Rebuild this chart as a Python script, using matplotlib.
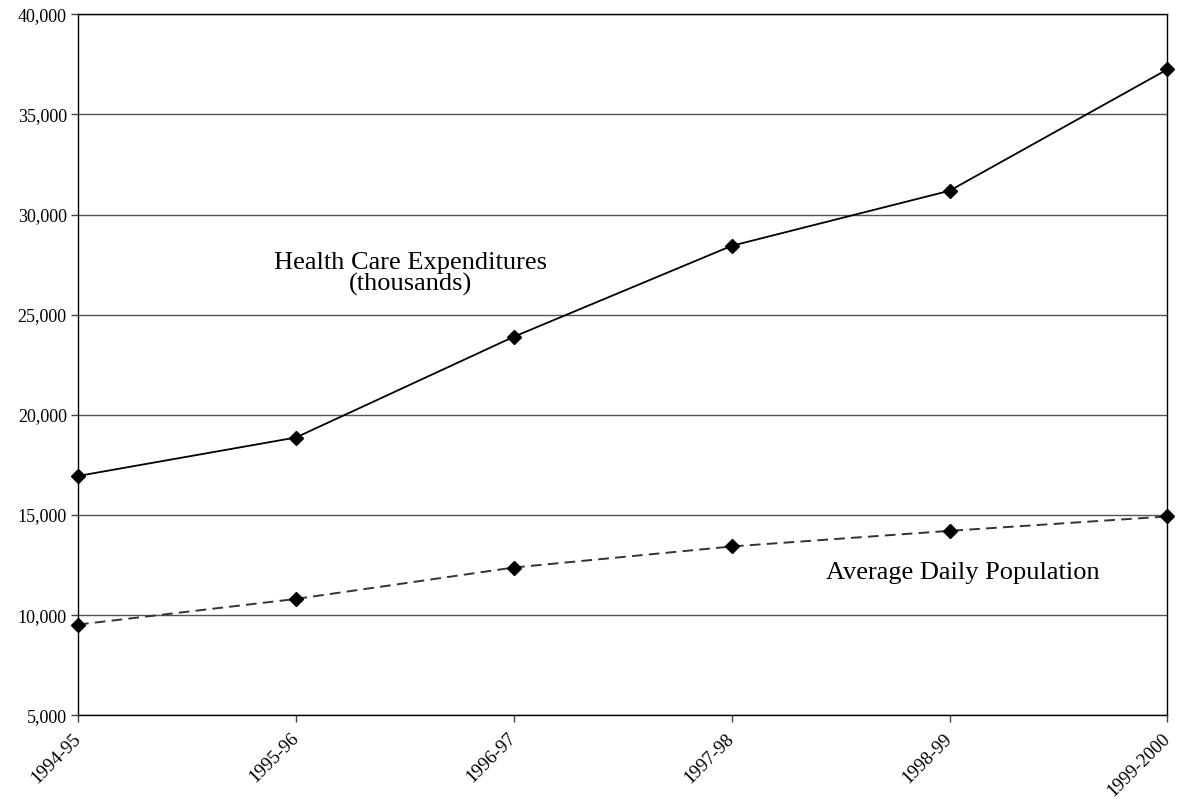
import matplotlib
matplotlib.use("Agg")
import matplotlib.pyplot as plt
from matplotlib.ticker import FuncFormatter

# Dados
anos = ["1994-95", "1995-96", "1996-97", "1997-98", "1998-99", "1999-2000"]
gastos_saude = [16950, 18870, 23900, 28440, 31190, 37250]
populacao_diaria = [9530, 10810, 12380, 13430, 14210, 14930]

plt.rcParams['font.family'] = ['Liberation Serif', 'DejaVu Serif']

fig = plt.figure(figsize=(11.78, 8.08), dpi=100)
ax = fig.add_axes([0.0662, 0.1147, 0.9248, 0.8676])

x = list(range(len(anos)))

# Linhas de grade horizontais
ax.set_ylim(5000, 40000)
ax.set_yticks(range(5000, 40001, 5000))
ax.yaxis.grid(True, color='#555555', linewidth=1.0)
ax.set_axisbelow(True)

ax.plot(x, gastos_saude, color='black', linewidth=1.3, marker='D',
        markersize=7, markerfacecolor='black', markeredgecolor='black', clip_on=False)
ax.plot(x, populacao_diaria, color='#333333', linewidth=1.4, linestyle=(0, (5.5, 3.2)),
        marker='D', markersize=7, markerfacecolor='black', markeredgecolor='black',
        clip_on=False)

ax.set_xlim(0, len(anos) - 1)
ax.set_xticks(x)
ax.set_xticklabels(anos, rotation=45, ha='right', va='center', rotation_mode='anchor',
                   fontsize=13.5)
ax.yaxis.set_major_formatter(FuncFormatter(lambda v, p: f"{int(v):,}"))

ax.tick_params(axis='both', direction='out', length=5, width=1, colors='#444444',
               labelcolor='black')
ax.tick_params(axis='y', labelsize=13, pad=3)
ax.tick_params(axis='x', pad=10)

for lado in ['left', 'right', 'top', 'bottom']:
    ax.spines[lado].set_color('black')
    ax.spines[lado].set_linewidth(1.0)

ax.text(1.528, 27030, "Health Care Expenditures\n(thousands)", ha='center', va='center',
        fontsize=19, linespacing=0.95)
ax.text(4.061, 12110, "Average Daily Population", ha='center', va='center', fontsize=19)

plt.savefig("out.png", dpi=100)
